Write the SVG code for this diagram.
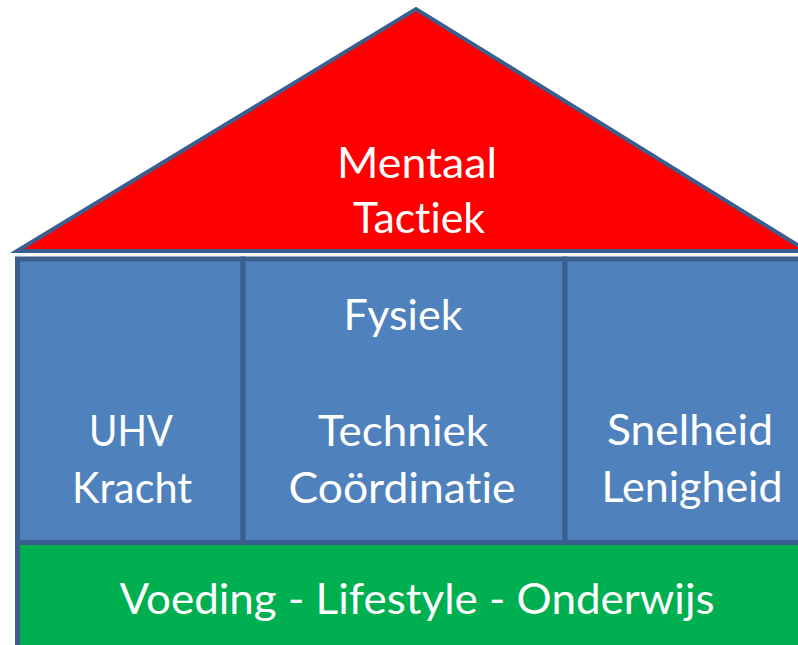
<svg xmlns="http://www.w3.org/2000/svg" width="798" height="645" viewBox="0 0 798 645">
<style>
.shape{stroke:#3A5F8E;stroke-width:5;stroke-linejoin:miter}
.roof{fill:#FF0000;stroke:#3A5F8E;stroke-width:4;stroke-linejoin:miter}
.pillar{fill:#4F81BD}
.base{fill:#00B050}
text{font-family:Lato,"Open Sans","DejaVu Sans",sans-serif;font-size:43px;fill:#FFFFFF;text-anchor:middle;font-variant-ligatures:none;font-feature-settings:"liga" 0}
</style>
<rect width="798" height="645" fill="#FFFFFF"/>
<g id="roof">
<polygon class="roof" points="17,251 416,9 807,251"/>
<text x="417" y="178" textLength="160" lengthAdjust="spacingAndGlyphs">Mentaal</text>
<text x="419" y="233" textLength="132" lengthAdjust="spacingAndGlyphs">Tactiek</text>
</g>
<g id="pillar-left">
<rect class="shape pillar" x="17.5" y="259" width="225.5" height="283.5"/>
<text x="131" y="446" textLength="84" lengthAdjust="spacingAndGlyphs">UHV</text>
<text x="132" y="503" textLength="120" lengthAdjust="spacingAndGlyphs">Kracht</text>
</g>
<g id="pillar-middle">
<rect class="shape pillar" x="243" y="259" width="322" height="283.5"/>
<text x="403" y="330" textLength="119" lengthAdjust="spacingAndGlyphs">Fysiek</text>
<text x="403" y="446" textLength="170" lengthAdjust="spacingAndGlyphs">Techniek</text>
<text x="402" y="503" textLength="227" lengthAdjust="spacingAndGlyphs">Coördinatie</text>
</g>
<g id="pillar-right">
<rect class="shape pillar" x="565" y="259" width="250" height="283.5"/>
<text x="690" y="445" textLength="166" lengthAdjust="spacingAndGlyphs">Snelheid</text>
<text x="692" y="502" textLength="181" lengthAdjust="spacingAndGlyphs">Lenigheid</text>
</g>
<g id="base">
<rect class="base" x="20" y="545" width="800" height="110"/>
<line class="shape" x1="17.5" y1="540" x2="17.5" y2="650"/>
<text x="417" y="614" textLength="595" lengthAdjust="spacingAndGlyphs">Voeding - Lifestyle - Onderwijs</text>
</g>
</svg>
